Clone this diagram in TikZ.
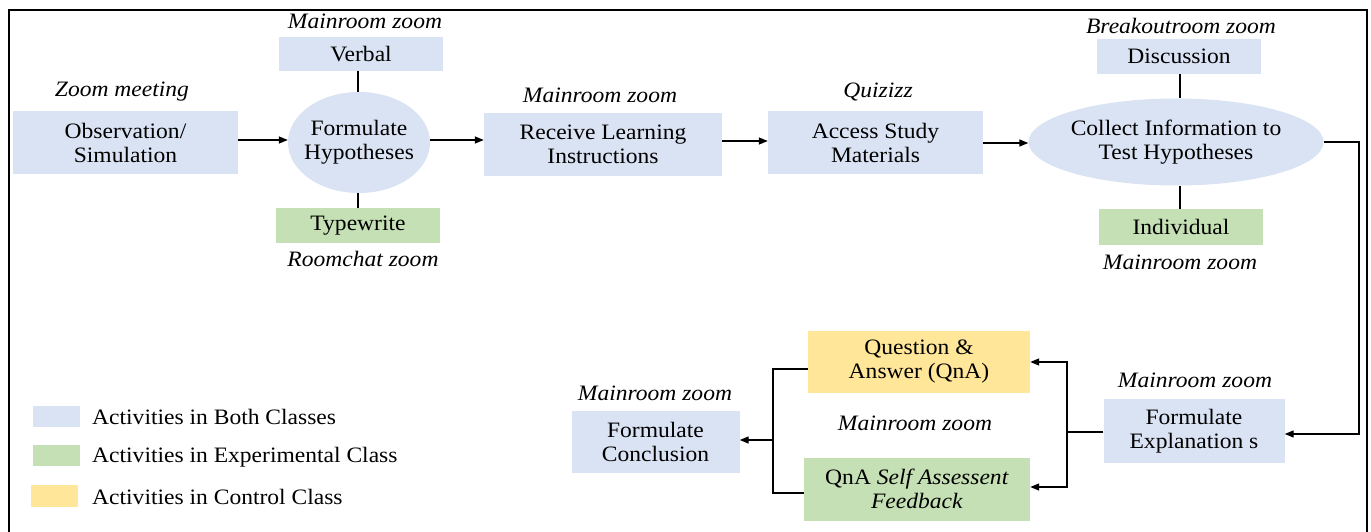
\documentclass[tikz,border=0pt]{standalone}
\usepackage{fontspec}
\setmainfont{Liberation Serif}[FakeStretch=1.07]
\usetikzlibrary{arrows.meta,shapes.geometric,calc}
\definecolor{cblue}{HTML}{DAE3F3}
\definecolor{cgreen}{HTML}{C5E0B4}
\definecolor{cyellow}{HTML}{FFE699}
\begin{document}
\begin{tikzpicture}[x=1pt,y=-1pt,
  every node/.style={font=\fontsize{22}{24}\selectfont, text=black},
  box/.style={rectangle, inner sep=0pt, align=center},
  bbox/.style={box, fill=cblue},
  gbox/.style={box, fill=cgreen},
  ybox/.style={box, fill=cyellow},
  oval/.style={ellipse, fill=cblue, inner sep=0pt},
  txt/.style={align=center, inner sep=0pt},
  lab/.style={inner sep=0pt, font=\fontsize{22}{24}\selectfont\itshape},
  ln/.style={line width=1.3pt},
  arr/.style={ln, -{Triangle[length=9pt,width=7pt]}}
]
\useasboundingbox (0,0) rectangle (1371,532);
\fill[white] (0,0) rectangle (1371,532);
\draw[line width=2pt] (9,545) -- (9,10) -- (1367,10) -- (1367,545);

% top row
\node[bbox, minimum width=225pt, minimum height=63pt] (obs) at (125.5,142.5) {Observation/\\Simulation};
\node[lab] (l1) at (122,92) {Zoom meeting};

\node[oval, minimum width=142pt, minimum height=101pt] (hyp) at (359,142.5) {};
\node[txt] (hypt) at (hyp) {Formulate\\Hypotheses};
\node[bbox, minimum width=164pt, minimum height=34pt] (verb) at (361,54) {Verbal};
\node[lab] (l2) at (365,21) {Mainroom zoom};
\node[gbox, minimum width=164pt, minimum height=35pt] (type) at (358,225.5) {Typewrite};
\node[lab] (l3) at (363,259) {Roomchat zoom};

\node[bbox, minimum width=238pt, minimum height=63pt] (rli) at (603,144.5) {Receive Learning\\Instructions};
\node[lab] (l4) at (600,95) {Mainroom zoom};

\node[bbox, minimum width=215pt, minimum height=63pt] (asm) at (875.5,142.5) {Access Study\\Materials};
\node[lab] (l5) at (878,92) {Quizizz};

\node[oval, minimum width=295pt, minimum height=87pt] (coll) at (1176,142) {};
\node[txt] (collt) at (coll) {Collect Information to\\Test Hypotheses};
\node[bbox, minimum width=164pt, minimum height=35pt] (disc) at (1179,56.5) {Discussion};
\node[lab] (l6) at (1181,26) {Breakoutroom zoom};
\node[gbox, minimum width=164pt, minimum height=36pt] (indv) at (1181,227) {Individual};
\node[lab] (l7) at (1180,262) {Mainroom zoom};

% bottom row
\node[bbox, minimum width=181pt, minimum height=64pt] (fe) at (1194,431) {Formulate\\Explanation s};
\node[lab] (l8) at (1195,380) {Mainroom zoom};
\node[ybox, minimum width=222pt, minimum height=62pt] (qna) at (919,361.5) {Question \&\\Answer (QnA)};
\node[gbox, minimum width=226pt, minimum height=63pt] (saf) at (917,489) {QnA \textit{Self Assessent}\\\textit{Feedback}};
\node[lab] (l9) at (915,423) {Mainroom zoom};
\node[bbox, minimum width=168pt, minimum height=62pt] (con) at (655.5,441.5) {Formulate\\Conclusion};
\node[lab] (l10) at (655,393) {Mainroom zoom};

% legend
\node[bbox, minimum width=47pt, minimum height=21pt] (s1) at (56,416.5) {};
\node[gbox, minimum width=47pt, minimum height=21pt] (s2) at (56,455.5) {};
\node[ybox, minimum width=47pt, minimum height=22pt] (s3) at (54,496) {};
\node[inner sep=0pt, anchor=west] (t1) at (92,417) {Activities in Both Classes};
\node[inner sep=0pt, anchor=west] (t2) at (92,457) {Activities in Experimental Class};
\node[inner sep=0pt, anchor=west] (t3) at (92,497) {Activities in Control Class};

% connectors
\draw[arr] (obs.east |- 0,140) -- (hyp.west |- 0,140);
\draw[arr] (hyp.east |- 0,140) -- (rli.west |- 0,140);
\draw[arr] (rli.east |- 0,141) -- (asm.west |- 0,141);
\draw[arr] (asm.east |- 0,143) -- (coll.west |- 0,143);
\draw[ln] (verb.south -| 358,0) -- (hyp.north -| 358,0);
\draw[ln] (hyp.south -| 358,0) -- (type.north -| 358,0);
\draw[ln] (disc.south -| 1180,0) -- (coll.north -| 1180,0);
\draw[ln] (coll.south -| 1180,0) -- (indv.north -| 1180,0);

\coordinate (rr) at (1359,142);
\draw[arr] (coll.east) -- (rr) |- (fe.east |- 0,434);

\coordinate (jr) at (1067,432);
\draw[ln] (fe.west |- jr) -- (jr);
\draw[arr] (jr) |- (qna.east |- 0,362);
\draw[arr] (jr) |- (saf.east |- 0,487);

\coordinate (jl1) at (773,369);
\coordinate (jl2) at (773,493);
\coordinate (jl) at (773,440);
\draw[ln] (qna.west |- jl1) -- (jl1) -- (jl2) -- (saf.west |- jl2);
\draw[arr] (jl) -- (con.east |- jl);
\end{tikzpicture}
\end{document}
